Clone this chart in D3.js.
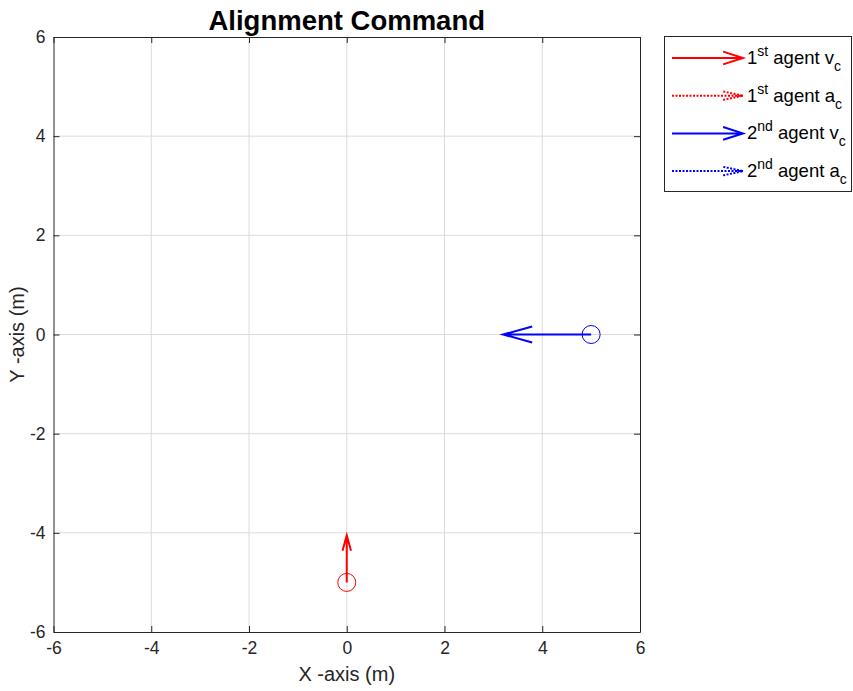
<!DOCTYPE html>
<html>
<head>
<meta charset="utf-8">
<script src="https://cdn.jsdelivr.net/npm/d3@7"></script>
<style>
  body { margin: 0; background: #fff; }
  text { font-family: "Liberation Sans", Arial, sans-serif; fill: #262626; }
</style>
</head>
<body>
<div id="chart"></div>
<script>
// agent data
var agentOrd = ["1", "2"];
var agentSup = ["st", "nd"];
var agentColor = ["#ff0000", "#0000ff"];
var posX = [0, 5];
var posY = [-5, 0];
var vcU = [0, -1.8];
var vcV = [0.95, 0];
var acU = [0, 0];
var acV = [0, 0];
var xTicks = [-6, -4, -2, 0, 2, 4, 6];
var yTicks = [-6, -4, -2, 0, 2, 4, 6];

var W = 853, H = 691;
var margin = {top: 37, left: 53.5, right: 213, bottom: 59};
var wg = W - margin.left - margin.right;
var hg = H - margin.top - margin.bottom;

var svg = d3.select("#chart").append("svg")
    .attr("width", W).attr("height", H);

var g = svg.append("g")
    .attr("transform", "translate(" + margin.left + "," + margin.top + ")");

var xScale = d3.scaleLinear().domain([-6, 6]).range([0, wg]);
var yScale = d3.scaleLinear().domain([-6, 6]).range([hg, 0]);
var fmt = d => String(d);

// grid
g.append("g").selectAll("line").data(xTicks.slice(1, -1)).enter().append("line")
    .attr("x1", d => xScale(d)).attr("x2", d => xScale(d))
    .attr("y1", 0).attr("y2", hg)
    .attr("stroke", "#dcdcdc").attr("stroke-width", 1);
g.append("g").selectAll("line").data(yTicks.slice(1, -1)).enter().append("line")
    .attr("y1", d => yScale(d)).attr("y2", d => yScale(d))
    .attr("x1", 0).attr("x2", wg)
    .attr("stroke", "#dcdcdc").attr("stroke-width", 1);

// axes (ticks pointing inward)
function styleAxis(sel) {
  sel.select(".domain").attr("stroke", "#262626");
  sel.selectAll(".tick line").attr("stroke", "#262626");
  sel.selectAll(".tick text").style("font-size", "17.5px").attr("fill", "#262626");
}
g.append("g").attr("transform", "translate(0," + hg + ")")
    .call(d3.axisBottom(xScale).tickValues(xTicks).tickFormat(fmt).tickSizeInner(-6).tickSizeOuter(0).tickPadding(10))
    .call(styleAxis);
g.append("g")
    .call(d3.axisLeft(yScale).tickValues(yTicks).tickFormat(fmt).tickSizeInner(-6).tickSizeOuter(0).tickPadding(8))
    .call(styleAxis);
g.append("g")
    .call(d3.axisTop(xScale).tickValues(xTicks).tickSizeInner(-6).tickSizeOuter(0).tickFormat(""))
    .call(styleAxis);
g.append("g").attr("transform", "translate(" + wg + ",0)")
    .call(d3.axisRight(yScale).tickValues(yTicks).tickSizeInner(-6).tickSizeOuter(0).tickFormat(""))
    .call(styleAxis);

// labels
svg.append("text").attr("x", margin.left + wg / 2).attr("y", 30)
    .attr("text-anchor", "middle").style("font-size", "27.5px").style("font-weight", "bold")
    .style("fill", "#000")
    .text("Alignment Command");
svg.append("text").attr("x", margin.left + wg / 2).attr("y", 681)
    .attr("text-anchor", "middle").style("font-size", "20px")
    .text("X -axis (m)");
svg.append("text")
    .attr("transform", "translate(24," + (margin.top + hg / 2) + ") rotate(-90)")
    .attr("text-anchor", "middle").style("font-size", "20px")
    .text("Y -axis (m)");

// arrow drawing helper (pixel coords)
function arrow(sel, x1, y1, x2, y2, color, dash, headFrac, halfFrac) {
  var dx = x2 - x1, dy = y2 - y1;
  var len = Math.sqrt(dx * dx + dy * dy);
  if (len === 0) return;
  var ux = dx / len, uy = dy / len;
  var hl = len * headFrac, hw = len * halfFrac;
  var bx = x2 - ux * hl, by = y2 - uy * hl;
  var p = d3.path();
  p.moveTo(x1, y1); p.lineTo(x2, y2);
  p.moveTo(bx - uy * hw, by + ux * hw); p.lineTo(x2, y2); p.lineTo(bx + uy * hw, by - ux * hw);
  sel.append("path").attr("d", p.toString())
     .attr("fill", "none").attr("stroke", color).attr("stroke-width", 2)
     .attr("stroke-dasharray", dash);
}

var marks = g.append("g");
agentOrd.forEach(function(a, i) {
  var cx = xScale(posX[i]), cy = yScale(posY[i]);
  arrow(marks, cx, cy, xScale(posX[i] + vcU[i]), yScale(posY[i] + vcV[i]), agentColor[i], null, 0.33, 0.09);
  arrow(marks, cx, cy, xScale(posX[i] + acU[i]), yScale(posY[i] + acV[i]), agentColor[i], "2,2", 0.33, 0.09);
  marks.append("circle").attr("cx", cx).attr("cy", cy).attr("r", 9)
     .attr("fill", "none").attr("stroke", agentColor[i]).attr("stroke-width", 1);
});

// legend
var lg = svg.append("g");
lg.append("rect").attr("x", 664.5).attr("y", 36.5).attr("width", 187).attr("height", 155)
   .attr("fill", "#fff").attr("stroke", "#262626").attr("stroke-width", 1);
var rows = [];
agentOrd.forEach(function(a, i) {
  rows.push({ord: a, sup: agentSup[i], sym: "v", color: agentColor[i], dash: null});
  rows.push({ord: a, sup: agentSup[i], sym: "a", color: agentColor[i], dash: "2,2"});
});
rows.forEach(function(r, k) {
  var y = 58 + k * 37.7;
  if (r.dash) {
    arrow(lg, 672, y, 743, y, r.color, "2,1.5", 0.28, 0.06);
  } else {
    arrow(lg, 672, y, 743, y, r.color, null, 0.28, 0.09);
  }
  var t = lg.append("text").attr("x", 747).attr("y", y + 6).style("font-size", "18.5px").style("fill", "#000");
  t.append("tspan").text(r.ord);
  t.append("tspan").attr("dy", -8).style("font-size", "14px").text(r.sup);
  t.append("tspan").attr("dy", 8).text(" agent " + r.sym);
  t.append("tspan").attr("dy", 7).style("font-size", "14px").text("c");
});
</script>
</body>
</html>
